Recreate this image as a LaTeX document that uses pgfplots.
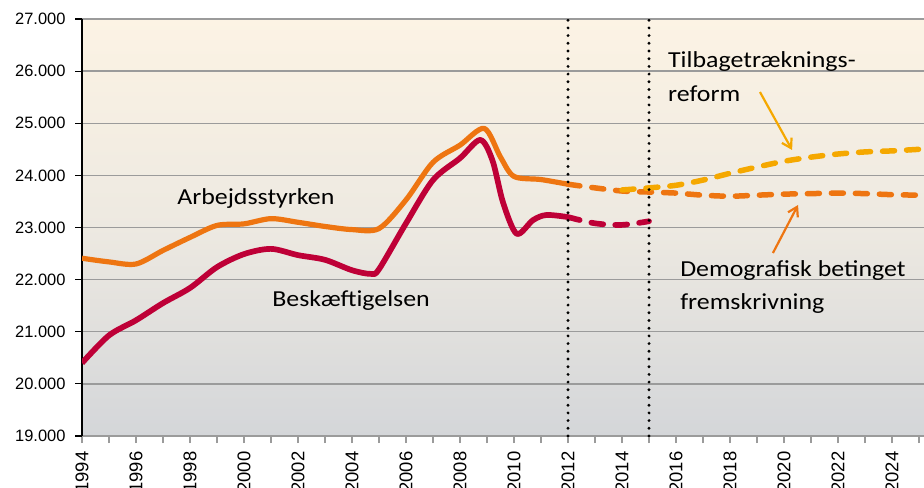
\documentclass[border=0pt]{standalone}
\usepackage{fontspec}
\setmainfont{Carlito}
\newfontfamily\arial{Liberation Sans}
\usepackage{pgfplots}
\pgfplotsset{compat=1.18}
\usetikzlibrary{arrows.meta}
\definecolor{cOrange}{RGB}{238,117,17}
\definecolor{cRed}{RGB}{190,0,55}
\definecolor{cYellow}{RGB}{245,168,0}
\definecolor{bgTop}{RGB}{252,243,228}
\definecolor{bgMid}{RGB}{237,233,225}
\definecolor{bgBot}{RGB}{212,214,217}
\definecolor{gridc}{RGB}{155,155,155}
\begin{document}
\begin{tikzpicture}
\useasboundingbox (0,0) rectangle (924bp,488bp);
\begin{axis}[
  at={(82bp,52bp)}, anchor=south west,
  scale only axis, width=842.4bp, height=417bp,
  xmin=1994, xmax=2025.2, ymin=19000, ymax=27000,
  axis background/.style={shade, top color=bgTop, bottom color=bgBot, middle color=bgMid},
  axis x line=bottom, axis y line=left,
  axis line style={-},
  x axis line style={draw=gridc, line width=2bp},
  y axis line style={draw=black, line width=1.2bp},
  ymajorgrids, grid style={draw=gridc, line width=1.3bp},
  ytick={19000,20000,...,27000},
  xtick={1994,1996,...,2024},
  minor xtick={1995,1997,...,2025},
  tick align=outside,
  major tick length=7bp, minor tick length=7bp,
  x tick style={draw=gridc, line width=1.2bp},
  y tick style={draw=black, line width=1.2bp},
  scaled ticks=false,
  /pgf/number format/assume math mode=true,
  yticklabel style={font=\arial\fontsize{16.5}{17}\selectfont, anchor=east, xshift=-6bp, /pgf/number format/.cd, fixed, 1000 sep={.}},
  xticklabel style={font=\arial\fontsize{18.5}{19}\selectfont, rotate=90, anchor=east, xshift=-5bp, /pgf/number format/.cd, 1000 sep={}},
  clip=true,
]
% Arbejdsstyrken (solid)
\addplot[cOrange, line width=5.2bp, smooth, line join=round] coordinates {
 (1994,22410) (1995,22340) (1996,22300) (1997,22560) (1998,22810) (1999,23040)
 (2000,23070) (2001,23170) (2002,23100) (2003,23020) (2004,22960) (2005,22980)
 (2006,23530) (2007,24250) (2008,24580) (2008.9,24900) (2009.5,24350) (2010,23980)
 (2011,23920) (2012,23830)};
% Beskaeftigelsen (solid)
\addplot[cRed, line width=5.7bp, smooth, line join=round] coordinates {
 (1994,20400) (1995,20930) (1996,21220) (1997,21550) (1998,21840) (1999,22240)
 (2000,22490) (2001,22590) (2002,22470) (2003,22380) (2004,22180) (2004.7,22110)
 (2005,22200) (2006,23080) (2007,23910) (2008,24330) (2008.75,24680) (2009.2,24290)
 (2009.6,23470) (2010.1,22880) (2010.7,23140) (2011.2,23240) (2012,23200)};
% Demografisk (dashed orange)
\addplot[cOrange, line width=5.5bp, smooth, line cap=round, dash pattern=on 12bp off 12bp] coordinates {
 (2012,23830) (2013,23760) (2014,23700) (2015,23680) (2016,23660) (2017,23620)
 (2018,23600) (2019,23620) (2020,23640) (2021,23650) (2022,23660) (2023,23650)
 (2024,23630) (2025,23620)};
% Tilbagetraekningsreform (dashed yellow)
\addplot[cYellow, line width=5.5bp, smooth, line cap=round, dash pattern=on 12bp off 12bp] coordinates {
 (2014,23720) (2015,23760) (2016,23810) (2017,23910) (2018,24040) (2019,24160)
 (2020,24270) (2021,24350) (2022,24410) (2023,24450) (2024,24470) (2025,24500)};
% Beskaeftigelse projection (dashed red)
\addplot[cRed, line width=5.7bp, smooth, line cap=round, dash pattern=on 12bp off 12bp] coordinates {
 (2012,23200) (2013,23080) (2014,23050) (2015,23120)};
% vertical dotted lines
\draw[black, line width=3.2bp, line cap=round, dash pattern=on 0pt off 7.7bp] (axis cs:2012,19000) -- (axis cs:2012,27000);
\draw[black, line width=3.2bp, line cap=round, dash pattern=on 0pt off 7.7bp] (axis cs:2015,19000) -- (axis cs:2015,27000);
% annotations
\node[anchor=base west, font=\fontsize{23}{26}\selectfont, xscale=1.13, inner sep=0pt] at (axis cs:1997.52,23432) {Arbejdsstyrken};
\node[anchor=base west, font=\fontsize{23}{26}\selectfont, xscale=1.13, inner sep=0pt] at (axis cs:2001.04,21476) {Beskæftigelsen};
\node[anchor=base west, font=\fontsize{23}{26}\selectfont, xscale=1.13, inner sep=0pt] at (axis cs:2015.70,26079) {Tilbagetræknings-};
\node[anchor=base west, font=\fontsize{23}{26}\selectfont, xscale=1.13, inner sep=0pt] at (axis cs:2015.70,25408) {reform};
\node[anchor=base west, font=\fontsize{23}{26}\selectfont, xscale=1.13, inner sep=0pt] at (axis cs:2016.15,22051) {Demografisk betinget};
\node[anchor=base west, font=\fontsize{23}{26}\selectfont, xscale=1.13, inner sep=0pt] at (axis cs:2016.15,21419) {fremskrivning};
\draw[cYellow, line width=2.2bp, -{Straight Barb[length=9bp,width=11bp]}] (axis cs:2019.11,25599) -- (axis cs:2020.30,24487);
\draw[cOrange, line width=2.2bp, -{Straight Barb[length=9bp,width=11bp]}] (axis cs:2019.59,22511) -- (axis cs:2020.52,23432);
\end{axis}
\end{tikzpicture}
\end{document}
